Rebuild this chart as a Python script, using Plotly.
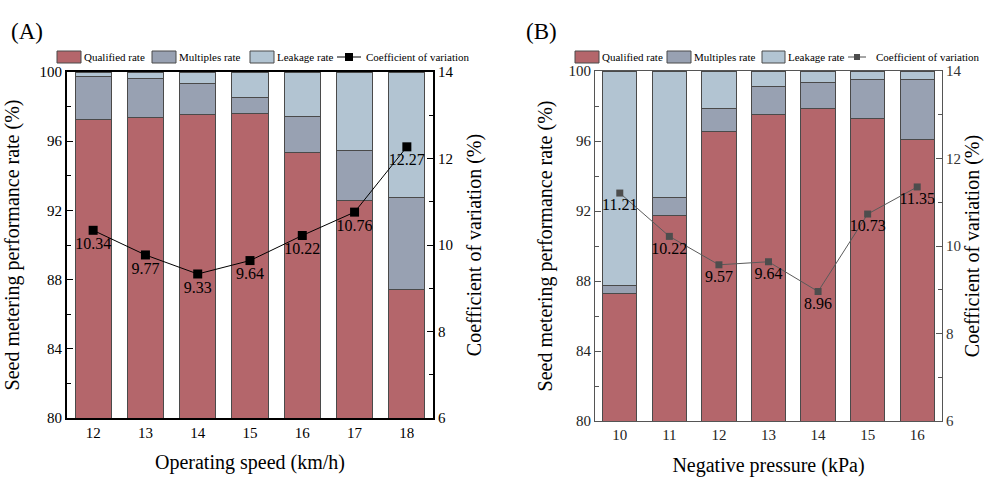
import plotly.graph_objects as go

# ---------------- data ----------------
speed = ["12", "13", "14", "15", "16", "17", "18"]
qualified_a = [97.27, 97.35, 97.55, 97.60, 95.35, 92.60, 87.40]
multiples_a = [2.46, 2.30, 1.80, 0.95, 2.10, 2.85, 5.35]
leakage_a = [0.27, 0.35, 0.65, 1.45, 2.55, 4.55, 7.25]
cv_a = [10.34, 9.77, 9.33, 9.64, 10.22, 10.76, 12.27]

pressure = ["10", "11", "12", "13", "14", "15", "16"]
qualified_b = [87.30, 91.77, 96.57, 97.50, 97.87, 97.26, 96.06]
multiples_b = [0.45, 1.03, 1.28, 1.60, 1.48, 2.23, 3.48]
leakage_b = [12.25, 7.20, 2.15, 0.90, 0.65, 0.51, 0.46]
cv_b = [11.21, 10.22, 9.57, 9.64, 8.96, 10.73, 11.35]

series_names = ["Qualified rate", "Multiples rate", "Leakage rate", "Coefficient of variation"]

# ---------------- style ----------------
FONT = "Times New Roman, Liberation Serif, serif"
C_Q = "#b4666b"
C_M = "#98a1b2"
C_L = "#b2c4d2"
EDGE = "#4a4a4a"
W, H = 986, 477

fig = go.Figure()


def add_panel(xcats, q, m, l, cv, xa, ya, ya2, mcolor, lcolor, msize):
    for name, vals, col in zip(series_names[:3], [q, m, l], [C_Q, C_M, C_L]):
        fig.add_trace(go.Bar(
            x=xcats, y=vals, name=name, xaxis=xa, yaxis=ya, showlegend=False,
            marker=dict(color=col, line=dict(color=EDGE, width=1)),
            width=0.69,
        ))
    fig.add_trace(go.Scatter(
        x=xcats, y=cv, name=series_names[3], xaxis=xa, yaxis=ya2, showlegend=False,
        mode="lines+markers+text", text=[f"{v:.2f}" for v in cv],
        textposition="bottom center", textfont=dict(family=FONT, size=16, color="black"),
        marker=dict(symbol="square", size=msize, color=mcolor),
        line=dict(color=lcolor, width=1),
    ))


add_panel(speed, qualified_a, multiples_a, leakage_a, cv_a, "x", "y", "y2", "black", "black", 9)
add_panel(pressure, qualified_b, multiples_b, leakage_b, cv_b, "x2", "y3", "y4", "#4d4d4d", "#5a5a5a", 7)

titlefont = dict(family=FONT, size=20, color="black")


def xaxis_cfg(domain, anchor, title, lc, lw, tc):
    return dict(domain=domain, anchor=anchor, type="category", automargin=False,
                title=dict(text=title, font=titlefont, standoff=15),
                tickfont=dict(family=FONT, size=15, color=tc),
                showline=True, mirror=True, linecolor=lc, linewidth=lw,
                ticks="", showgrid=False, range=[-0.5, 6.5], zeroline=False)


def yleft_cfg(domain, anchor, lc, lw, tc, standoff):
    return dict(domain=domain, anchor=anchor, range=[80, 100], dtick=4, tick0=80, automargin=False,
                title=dict(text="Seed metering performance rate (%)", font=titlefont, standoff=standoff),
                tickfont=dict(family=FONT, size=15, color=tc),
                showline=True, linecolor=lc, linewidth=lw, ticks="inside", ticklen=6, tickcolor=lc,
                minor=dict(dtick=2, ticks="inside", ticklen=4, tickcolor=lc),
                showgrid=False, zeroline=False)


def yright_cfg(overlay, anchor, lc, lw, tc, standoff):
    return dict(overlaying=overlay, anchor=anchor, side="right", range=[6, 14], dtick=2, tick0=6,
                automargin=False,
                title=dict(text="Coefficient of variation (%)", font=titlefont, standoff=standoff),
                tickfont=dict(family=FONT, size=15, color=tc),
                showline=True, linecolor=lc, linewidth=lw, ticks="inside", ticklen=6, tickcolor=lc,
                minor=dict(dtick=1, ticks="inside", ticklen=4, tickcolor=lc),
                showgrid=False, zeroline=False)


# ---------------- manual legends (decoration) ----------------
shapes = []
annotations = []


def px_x(v):
    return v / W


def px_y(v):
    return (H - v) / H


def add_legend(rects, textx, line_x, marker_color, marker_size):
    cols = [C_Q, C_M, C_L]
    for (x0, x1), col in zip(rects, cols):
        shapes.append(dict(type="rect", xref="paper", yref="paper",
                           x0=px_x(x0), x1=px_x(x1), y0=px_y(63), y1=px_y(51),
                           fillcolor=col, line=dict(color=EDGE, width=1)))
    lx0, lx1 = line_x
    shapes.append(dict(type="line", xref="paper", yref="paper",
                       x0=px_x(lx0), x1=px_x(lx1), y0=px_y(57), y1=px_y(57),
                       line=dict(color=marker_color, width=1)))
    mc = (lx0 + lx1) / 2
    shapes.append(dict(type="rect", xref="paper", yref="paper",
                       x0=px_x(mc - marker_size / 2), x1=px_x(mc + marker_size / 2),
                       y0=px_y(57 + marker_size / 2), y1=px_y(57 - marker_size / 2),
                       fillcolor=marker_color, line=dict(width=0)))
    for name, tx in zip(series_names, textx):
        annotations.append(dict(text=name, x=px_x(tx), y=px_y(57), xref="paper", yref="paper",
                                xanchor="left", yanchor="middle", showarrow=False,
                                font=dict(family=FONT, size=11, color="black")))


add_legend([(57, 81), (152, 176), (250, 274)], [82, 177, 275, 364], (337, 361), "black", 8)
add_legend([(575, 599), (667, 691), (762, 785)], [600, 692, 786, 874], (848, 866), "#4d4d4d", 6)

annotations.append(dict(text="(A)", x=px_x(9), y=px_y(31), xref="paper", yref="paper",
                        xanchor="left", yanchor="middle", showarrow=False,
                        font=dict(family=FONT, size=23, color="black")))
annotations.append(dict(text="(B)", x=px_x(524), y=px_y(31), xref="paper", yref="paper",
                        xanchor="left", yanchor="middle", showarrow=False,
                        font=dict(family=FONT, size=23, color="black")))

fig.update_layout(
    width=W, height=H,
    margin=dict(l=0, r=0, t=0, b=0),
    paper_bgcolor="white", plot_bgcolor="white",
    barmode="stack", bargap=0.31,
    showlegend=False,
    xaxis=xaxis_cfg([67 / W, 433 / W], "y", "Operating speed (km/h)", "black", 2, "black"),
    yaxis=yleft_cfg([(H - 418) / H, (H - 72) / H], "x", "black", 2, "black", 15),
    yaxis2=yright_cfg("y", "x", "black", 2, "black", 14),
    xaxis2=xaxis_cfg([595 / W, 942 / W], "y3", "Negative pressure (kPa)", "#555555", 1, "#222222"),
    yaxis3=yleft_cfg([(H - 421) / H, (H - 71) / H], "x2", "#555555", 1, "#222222", 10),
    yaxis4=yright_cfg("y3", "x2", "#555555", 1, "#333333", 0),
    shapes=shapes,
    annotations=annotations,
)

fig.write_html("out.html")
